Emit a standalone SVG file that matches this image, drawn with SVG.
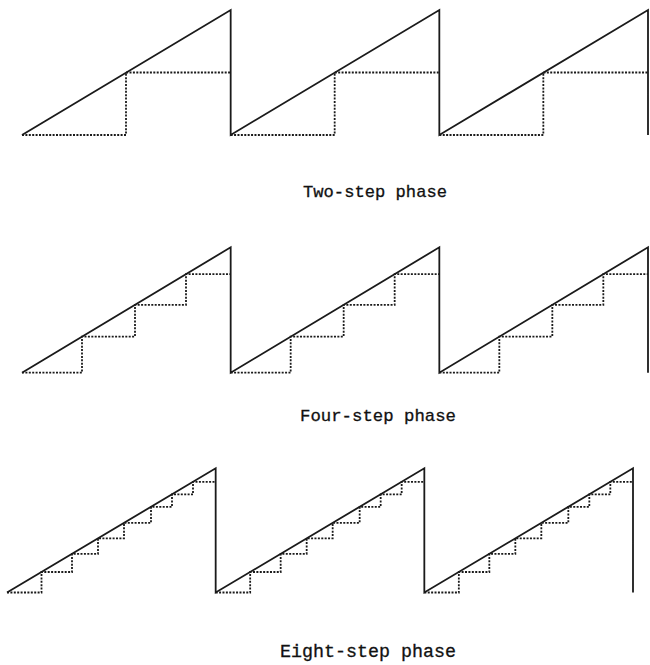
<svg xmlns="http://www.w3.org/2000/svg" xmlns:xlink="http://www.w3.org/1999/xlink" width="650" height="665" viewBox="0 0 650 665">
  <style>
    .saw { fill: none; stroke: #1a1a1a; stroke-width: 1.8; stroke-linejoin: miter; }
    .dot { fill: none; stroke: #1a1a1a; stroke-width: 1.8; stroke-dasharray: 2 1.4; }
    .lbl { font-family: "Liberation Mono", "DejaVu Sans Mono", monospace; font-size: 17px; fill: #111; stroke: #111; stroke-width: 0.3; }
  </style>
  <defs>
    <path id="d2" class="dot" d="M0,0 H104 V-62.5 H208.67"/>
    <path id="d4" class="dot" d="M0,0 H60 V-36.1 H113 V-67.9 H164 V-98.6 H208.67"/>
    <path id="d8" class="dot" d="M0,0 H34.5 V-20.5 H65 V-38.7 H91 V-54.2 H117 V-69.6 H144 V-85.7 H165 V-98.2 H186 V-110.7 H208.67"/>
  </defs>

  <g id="two-step">
    <path class="saw" d="M22,135 L230.67,10 V135 L439.33,10 V135 L648,10 V135"/>
    <use xlink:href="#d2" transform="translate(22,135)"/>
    <use xlink:href="#d2" transform="translate(230.67,135)"/>
    <use xlink:href="#d2" transform="translate(439.33,135)"/>
    <text class="lbl" x="303" y="197" textLength="144" lengthAdjust="spacingAndGlyphs">Two-step phase</text>
  </g>

  <g id="four-step">
    <path class="saw" d="M22,372.7 L230.67,247.3 V372.7 L439.33,247.3 V372.7 L648,247.3 V372.7"/>
    <use xlink:href="#d4" transform="translate(22,372.7)"/>
    <use xlink:href="#d4" transform="translate(230.67,372.7)"/>
    <use xlink:href="#d4" transform="translate(439.33,372.7)"/>
    <text class="lbl" x="300" y="421" textLength="156" lengthAdjust="spacingAndGlyphs">Four-step phase</text>
  </g>

  <g id="eight-step">
    <path class="saw" d="M7,592.5 L215.67,468.3 V592.5 L424.33,468.3 V592.5 L633,468.3 V592.5"/>
    <use xlink:href="#d8" transform="translate(7,592.5)"/>
    <use xlink:href="#d8" transform="translate(215.67,592.5)"/>
    <use xlink:href="#d8" transform="translate(424.33,592.5)"/>
    <text class="lbl" x="280" y="657" textLength="176" lengthAdjust="spacingAndGlyphs" style="font-size:18px">Eight-step phase</text>
  </g>
</svg>
